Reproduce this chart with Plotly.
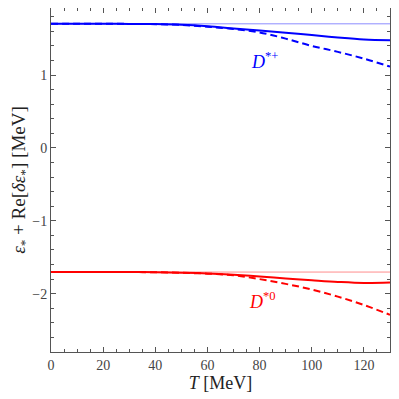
import plotly.graph_objects as go

T = [0, 10, 20, 30, 40, 50, 60, 70, 80, 90, 100, 110, 120, 130]
eps_plus = 1.703
eps_zero = -1.703
dplus_solid = [1.703, 1.703, 1.703, 1.702, 1.699, 1.690, 1.670, 1.640, 1.610, 1.580, 1.548, 1.515, 1.488, 1.478]
dplus_dashed = [1.703, 1.703, 1.703, 1.702, 1.698, 1.687, 1.663, 1.632, 1.585, 1.500, 1.400, 1.318, 1.225, 1.115]
dzero_solid = [-1.703, -1.703, -1.703, -1.703, -1.705, -1.711, -1.723, -1.740, -1.763, -1.790, -1.815, -1.838, -1.853, -1.847]
dzero_dashed = [-1.703, -1.703, -1.703, -1.703, -1.706, -1.713, -1.725, -1.748, -1.800, -1.865, -1.943, -2.040, -2.155, -2.290]

BLUE = "#0000ff"
RED = "#ff0000"
FONT = "Liberation Serif"

fig = go.Figure()
fig.add_trace(go.Scatter(x=[T[0], T[-1]], y=[eps_plus, eps_plus], mode="lines",
                         line=dict(color="#8c8cff", width=1), showlegend=False))
fig.add_trace(go.Scatter(x=[T[0], T[-1]], y=[eps_zero, eps_zero], mode="lines",
                         line=dict(color="#ff8c8c", width=1), showlegend=False))
fig.add_trace(go.Scatter(x=T, y=dplus_dashed, mode="lines", line_shape="spline",
                         line=dict(color=BLUE, width=2, dash="7px,4px"), showlegend=False))
fig.add_trace(go.Scatter(x=T, y=dplus_solid, mode="lines", line_shape="spline",
                         line=dict(color=BLUE, width=2), showlegend=False))
fig.add_trace(go.Scatter(x=T, y=dzero_dashed, mode="lines", line_shape="spline",
                         line=dict(color=RED, width=2, dash="7px,4px"), showlegend=False))
fig.add_trace(go.Scatter(x=T, y=dzero_solid, mode="lines", line_shape="spline",
                         line=dict(color=RED, width=2), showlegend=False))

fig.add_annotation(x=82, y=1.195, text="<i>D</i><sup>*+</sup>", showarrow=False,
                   font=dict(family=FONT, size=18, color=BLUE))
fig.add_annotation(x=81, y=-2.09, text="<i>D</i><sup>*0</sup>", showarrow=False,
                   font=dict(family=FONT, size=18, color=RED))

axis_common = dict(showgrid=False, zeroline=False, showline=True, linecolor="#555555",
                   linewidth=1, mirror="allticks", ticks="inside", ticklen=5,
                   tickcolor="#555555", automargin=False,
                   tickfont=dict(family=FONT, size=14, color="#444444"))

fig.update_xaxes(range=[0, 130], dtick=20, tick0=0,
                 minor=dict(dtick=5, ticks="inside", ticklen=3, tickcolor="#555555"),
                 title=dict(text="<i>T</i> [MeV]", font=dict(family=FONT, size=18, color="#222222"), standoff=1),
                 **axis_common)
fig.update_yaxes(range=[-2.8, 1.92], dtick=1, tick0=0,
                 minor=dict(dtick=0.2, ticks="inside", ticklen=3, tickcolor="#555555"),
                 title=dict(text="<i>ε</i><sub>*</sub> + Re[<i>δε</i><sub>*</sub>] [MeV]",
                            font=dict(family=FONT, size=19, color="#222222"), standoff=5),
                 **axis_common)

# page body has an 8px default margin, so the figure is sized/offset to compensate
fig.update_layout(width=391, height=391, margin=dict(l=43, r=9, t=0, b=47),
                  plot_bgcolor="white", paper_bgcolor="white")
fig.write_html("out.html")
